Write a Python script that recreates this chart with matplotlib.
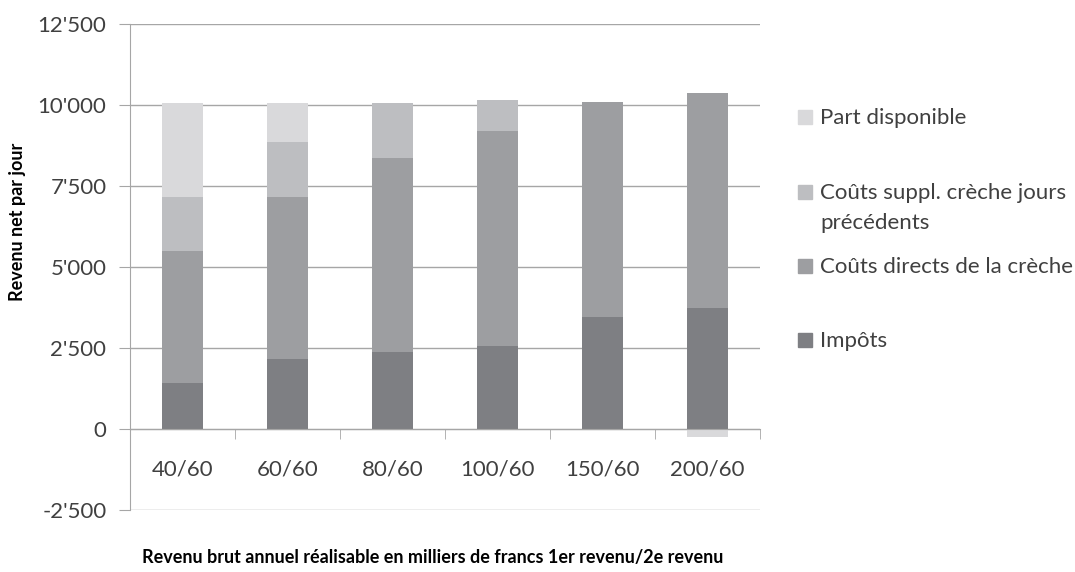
import numpy as np
import matplotlib.pyplot as plt
from matplotlib.ticker import FixedLocator, FuncFormatter
from matplotlib.patches import Rectangle

# categories: gross annual income (1st / 2nd earner, thousands of francs)
categories = ["40/60", "60/60", "80/60", "100/60", "150/60", "200/60"]

# stacked series, bottom to top
impots = [1410, 2170, 2390, 2550, 3470, 3730]
couts_directs = [4080, 5000, 5970, 6650, 6630, 6650]
couts_suppl = [1680, 1690, 1690, 950, 0, 0]
part_disponible = [2900, 1210, 0, -30, 0, -260]

series = [
    ("Impôts", impots, "#7e7f83"),
    ("Coûts directs de la crèche", couts_directs, "#9d9ea1"),
    ("Coûts suppl. crèche jours\nprécédents", couts_suppl, "#bdbec1"),
    ("Part disponible", part_disponible, "#d9d9db"),
]

TEXT = "#404040"
GRID = "#a6a6a6"
plt.rcParams["font.family"] = ["Lato", "DejaVu Sans"]

fig = plt.figure(figsize=(10.75, 5.72), dpi=100)
ax = fig.add_axes([130 / 1075, 1 - 510 / 572, 630 / 1075, 486 / 572])

x = np.arange(len(categories))
pos_base = np.zeros(len(categories))
neg_base = np.zeros(len(categories))
for label, vals, color in series:
    v = np.array(vals, dtype=float)
    bottom = np.where(v >= 0, pos_base, neg_base)  # negatives stack down from 0
    ax.bar(x, v, bottom=bottom, width=0.39, color=color, zorder=3)
    pos_base += np.clip(v, 0, None)
    neg_base += np.clip(v, None, 0)

ax.set_xlim(-0.5, len(categories) - 0.5)
ax.set_ylim(-2500, 12500)
ax.set_yticks(np.arange(-2500, 12501, 2500))
ax.yaxis.set_major_formatter(FuncFormatter(lambda v, _: f"{v:,.0f}".replace(",", "'")))
ax.grid(axis="y", color=GRID, linewidth=1, zorder=0)

for s in ["top", "right"]:
    ax.spines[s].set_visible(False)
ax.spines["left"].set_color(GRID)
ax.spines["bottom"].set_color(GRID)
ax.spines["bottom"].set_position(("data", 0))
ax.spines["bottom"].set_zorder(4)

ax.tick_params(axis="y", length=8, color=GRID, labelsize=16, labelcolor=TEXT, pad=9)
ax.set_xticks(x)
ax.set_xticklabels(categories)
ax.tick_params(axis="x", which="major", length=0, labelsize=16, labelcolor=TEXT, pad=22)
ax.xaxis.set_minor_locator(FixedLocator(np.arange(-0.5, len(categories), 1.0)))
ax.tick_params(axis="x", which="minor", length=7, color=GRID, direction="out")

fig.text(18 / 1075, 1 - 222 / 572, "Revenu net par jour", rotation=90, ha="center", va="center",
         fontsize=13, fontweight="bold", color="black")
fig.text(433 / 1075, 1 - 557 / 572,
         "Revenu brut annuel réalisable en milliers de francs 1er revenu/2e revenu",
         ha="center", va="center", fontsize=13, fontweight="bold", color="black")

# legend, drawn by hand to match the Excel layout (top entry = last series)
legend_y = [117, 192, 266, 340]
for (label, _, color), yy in zip(reversed(series), legend_y):
    fig.patches.append(Rectangle((798 / 1075, 1 - (yy + 7) / 572), 14 / 1075, 14 / 572,
                                 transform=fig.transFigure, color=color))
    fig.text(820 / 1075, 1 - (yy - 9) / 572, label, ha="left", va="top",
             fontsize=16, color=TEXT, linespacing=1.6)

fig.savefig("out.png", dpi=100)
